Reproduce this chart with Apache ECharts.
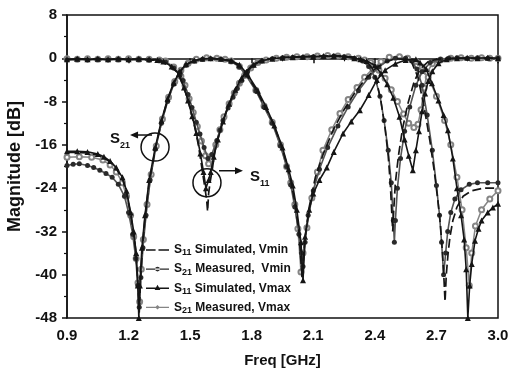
<!DOCTYPE html>
<html>
<head>
<meta charset="utf-8">
<script src="https://cdn.jsdelivr.net/npm/echarts@6/dist/echarts.min.js"></script>
<style>html,body{margin:0;padding:0;background:#fff;}#c{width:511px;height:371px;}</style>
</head>
<body>
<div id="c"></div>
<script>
// ---- data (frequency GHz, magnitude dB) ----
const xTicks = [0.9, 1.2, 1.5, 1.8, 2.1, 2.4, 2.7, 3.0];
const yTicks = [8, 0, -8, -16, -24, -32, -40, -48];
const legendNames = ['S11 Simulated, Vmin', 'S21 Measured,  Vmin', 'S11 Simulated, Vmax', 'S21 Measured, Vmax'];

const s11VminSim = [[0.90,-0.2],[0.95,-0.2],[1.00,-0.1],[1.05,-0.2],[1.10,-0.2],[1.15,-0.1],[1.20,-0.2],[1.25,-0.2],[1.30,-0.3],[1.34,-0.4],[1.37,-0.8],[1.40,-1.4],[1.42,-2.0],[1.44,-2.7],[1.465,-5.0],[1.485,-7.2],[1.505,-10.0],[1.523,-12.8],[1.54,-16.0],[1.557,-20.2],[1.572,-24.0],[1.58,-26.0],[1.585,-28.3],[1.59,-25.0],[1.597,-23.0],[1.61,-20.0],[1.621,-17.1],[1.64,-14.2],[1.66,-11.5],[1.69,-8.4],[1.718,-5.9],[1.74,-4.2],[1.767,-2.8],[1.80,-1.3],[1.84,-0.5],[1.88,-0.1],[1.92,0.1],[1.96,0.2],[2.00,0.2],[2.05,0.3],[2.10,0.4],[2.15,0.4],[2.20,0.5],[2.25,0.4],[2.30,0.2],[2.33,-0.1],[2.36,-0.6],[2.39,-2.0],[2.41,-4.5],[2.43,-8.0],[2.45,-13.0],[2.465,-18.0],[2.475,-23.0],[2.483,-29.0],[2.487,-32.0],[2.492,-28.0],[2.50,-23.0],[2.515,-18.0],[2.535,-13.0],[2.56,-8.5],[2.59,-4.5],[2.62,-2.0],[2.66,-0.6],[2.70,-0.2],[2.75,0.0],[2.80,0.0],[2.85,0.0],[2.90,0.0],[2.95,0.0],[3.00,0.0]];
const s21VminSim = [[0.90,-17.4],[0.95,-17.4],[1.00,-17.5],[1.05,-17.9],[1.08,-18.4],[1.11,-19.2],[1.14,-20.4],[1.17,-22.3],[1.19,-24.8],[1.21,-28.8],[1.225,-32.5],[1.235,-35.5],[1.245,-41.0],[1.252,-47.0],[1.258,-41.0],[1.267,-35.0],[1.28,-29.5],[1.30,-23.0],[1.33,-16.8],[1.36,-11.7],[1.39,-7.7],[1.42,-4.6],[1.45,-2.5],[1.48,-1.2],[1.52,-0.4],[1.56,-0.1],[1.60,0.0],[1.65,-0.2],[1.70,-0.5],[1.74,-1.4],[1.77,-2.8],[1.82,-5.7],[1.86,-8.6],[1.90,-11.6],[1.94,-15.6],[1.97,-19.4],[1.99,-22.5],[2.01,-26.5],[2.03,-32.0],[2.045,-40.5],[2.06,-33.0],[2.08,-27.5],[2.11,-22.0],[2.15,-17.5],[2.20,-13.0],[2.25,-9.5],[2.30,-6.5],[2.35,-4.0],[2.40,-2.0],[2.45,-0.7],[2.50,-0.1],[2.55,-0.2],[2.58,-0.8],[2.61,-3.5],[2.64,-9.0],[2.668,-15.2],[2.69,-21.0],[2.707,-26.3],[2.72,-31.0],[2.73,-36.2],[2.737,-41.0],[2.742,-45.0],[2.748,-40.0],[2.757,-36.0],[2.766,-33.0],[2.78,-30.0],[2.80,-27.5],[2.83,-25.5],[2.87,-24.5],[2.93,-24.0],[3.00,-24.0]];

const s11VminMeas = [[0.90,-0.3],[0.95,-0.2],[1.00,-0.3],[1.05,-0.2],[1.10,-0.3],[1.15,-0.2],[1.20,-0.3],[1.25,-0.2],[1.30,-0.3],[1.35,-0.4],[1.38,-0.7],[1.42,-1.8],[1.45,-3.1],[1.466,-4.1],[1.49,-6.7],[1.509,-9.1],[1.53,-11.8],[1.548,-14.0],[1.568,-16.5],[1.587,-18.5],[1.605,-17.8],[1.63,-15.2],[1.645,-13.3],[1.66,-11.5],[1.685,-9.2],[1.709,-7.2],[1.73,-5.6],[1.752,-4.1],[1.78,-2.5],[1.81,-1.3],[1.85,-0.5],[1.90,-0.1],[1.95,0.1],[2.00,0.2],[2.05,0.2],[2.10,0.3],[2.15,0.3],[2.20,0.4],[2.25,0.3],[2.30,0.0],[2.34,-0.5],[2.37,-1.5],[2.40,-3.5],[2.425,-7.0],[2.445,-11.5],[2.465,-17.0],[2.48,-23.0],[2.49,-30.0],[2.495,-34.0],[2.50,-30.0],[2.51,-24.0],[2.525,-18.5],[2.545,-13.5],[2.57,-9.0],[2.60,-5.0],[2.63,-2.5],[2.67,-0.8],[2.72,-0.2],[2.76,0.0],[2.80,0.1],[2.85,0.0],[2.90,0.1],[2.95,0.0],[3.00,0.0]];
const s21VminMeas = [[0.90,-19.8],[0.93,-19.6],[0.96,-19.5],[1.00,-19.8],[1.03,-20.2],[1.06,-20.7],[1.09,-21.3],[1.12,-22.0],[1.15,-23.3],[1.18,-25.5],[1.20,-28.5],[1.22,-32.5],[1.235,-37.0],[1.245,-42.0],[1.252,-46.0],[1.26,-40.5],[1.27,-35.0],[1.285,-29.0],[1.305,-22.5],[1.33,-16.8],[1.36,-12.0],[1.39,-8.0],[1.42,-4.8],[1.45,-2.6],[1.48,-1.3],[1.52,-0.5],[1.56,-0.2],[1.60,-0.1],[1.65,-0.2],[1.70,-0.6],[1.74,-1.6],[1.77,-3.0],[1.82,-6.0],[1.86,-9.0],[1.90,-12.0],[1.94,-16.2],[1.97,-20.0],[1.99,-23.4],[2.01,-27.5],[2.03,-32.5],[2.042,-36.0],[2.05,-38.5],[2.06,-34.0],[2.075,-29.0],[2.10,-24.5],[2.13,-20.5],[2.17,-16.5],[2.22,-12.5],[2.27,-9.0],[2.32,-6.0],[2.37,-3.5],[2.42,-1.6],[2.46,-0.5],[2.50,0.0],[2.55,0.0],[2.58,-0.5],[2.605,-2.0],[2.63,-5.0],[2.655,-10.5],[2.68,-17.0],[2.70,-23.5],[2.715,-29.0],[2.725,-34.0],[2.735,-40.0],[2.745,-36.0],[2.755,-32.0],[2.77,-28.5],[2.79,-26.0],[2.82,-24.3],[2.86,-23.3],[2.90,-23.0],[2.95,-23.0],[3.00,-23.0]];

const s11VmaxSim = [[0.90,-0.2],[0.95,-0.1],[1.00,-0.2],[1.05,-0.1],[1.10,-0.2],[1.15,-0.1],[1.20,-0.2],[1.25,-0.1],[1.30,-0.2],[1.34,-0.3],[1.37,-0.6],[1.41,-1.5],[1.445,-2.9],[1.47,-5.4],[1.49,-7.8],[1.51,-10.7],[1.53,-13.8],[1.55,-17.6],[1.565,-21.0],[1.577,-24.0],[1.59,-22.5],[1.60,-21.0],[1.615,-18.2],[1.635,-15.0],[1.66,-11.7],[1.69,-8.4],[1.72,-5.8],[1.75,-3.7],[1.775,-2.5],[1.81,-1.2],[1.85,-0.4],[1.90,-0.1],[1.95,0.1],[2.00,0.2],[2.05,0.3],[2.10,0.3],[2.15,0.4],[2.20,0.4],[2.25,0.3],[2.30,0.0],[2.33,-0.2],[2.36,-0.5],[2.40,-1.3],[2.43,-2.8],[2.46,-4.8],[2.49,-7.3],[2.52,-10.8],[2.545,-15.0],[2.565,-18.0],[2.585,-20.7],[2.60,-17.0],[2.615,-13.5],[2.63,-9.8],[2.645,-6.5],[2.66,-4.2],[2.68,-2.4],[2.71,-0.9],[2.75,-0.2],[2.80,0.0],[2.85,0.1],[2.90,0.0],[2.95,0.1],[3.00,0.0]];
const s21VmaxSim = [[0.90,-17.2],[0.95,-17.2],[1.00,-17.3],[1.05,-17.7],[1.08,-18.2],[1.11,-19.0],[1.14,-20.2],[1.17,-22.0],[1.19,-24.5],[1.21,-28.5],[1.225,-32.0],[1.237,-36.0],[1.245,-42.0],[1.25,-48.0],[1.255,-42.0],[1.265,-35.0],[1.28,-29.0],[1.30,-22.5],[1.33,-16.5],[1.36,-11.5],[1.39,-7.5],[1.42,-4.5],[1.45,-2.4],[1.48,-1.1],[1.52,-0.4],[1.56,-0.1],[1.60,0.0],[1.65,-0.1],[1.70,-0.4],[1.74,-1.2],[1.78,-3.0],[1.83,-6.0],[1.87,-9.0],[1.91,-12.4],[1.95,-16.5],[1.98,-20.5],[2.00,-23.5],[2.02,-28.0],[2.04,-34.0],[2.05,-41.0],[2.06,-33.0],[2.08,-28.0],[2.10,-25.0],[2.13,-22.5],[2.166,-20.2],[2.20,-17.3],[2.245,-13.9],[2.285,-11.7],[2.327,-9.6],[2.37,-6.8],[2.41,-4.0],[2.45,-2.2],[2.50,-1.0],[2.55,-0.3],[2.60,-0.2],[2.62,-0.8],[2.65,-2.0],[2.678,-4.6],[2.71,-7.8],[2.735,-10.5],[2.756,-13.3],[2.78,-18.5],[2.80,-24.0],[2.82,-29.0],[2.835,-33.5],[2.845,-39.0],[2.853,-48.0],[2.862,-42.0],[2.872,-38.0],[2.888,-33.7],[2.905,-31.5],[2.92,-30.0],[2.95,-28.5],[2.975,-27.6],[3.00,-26.9]];

const s11VmaxMeas = [[0.90,-0.1],[0.95,-0.2],[1.00,-0.1],[1.05,-0.2],[1.10,-0.1],[1.15,-0.2],[1.20,-0.1],[1.25,-0.2],[1.30,-0.2],[1.35,-0.3],[1.38,-0.5],[1.42,-1.6],[1.455,-3.3],[1.475,-5.0],[1.495,-7.5],[1.515,-10.0],[1.535,-12.6],[1.555,-15.3],[1.575,-18.0],[1.59,-19.5],[1.605,-18.6],[1.625,-16.0],[1.645,-13.2],[1.665,-10.8],[1.69,-8.4],[1.715,-6.4],[1.74,-4.6],[1.765,-3.2],[1.795,-1.8],[1.83,-0.8],[1.87,-0.3],[1.92,0.0],[1.97,0.2],[2.02,0.3],[2.07,0.3],[2.12,0.4],[2.17,0.5],[2.22,0.4],[2.27,0.3],[2.32,0.0],[2.35,-0.3],[2.38,-0.8],[2.42,-2.2],[2.45,-3.7],[2.48,-5.8],[2.51,-8.0],[2.54,-10.3],[2.565,-12.0],[2.59,-12.8],[2.61,-12.2],[2.625,-9.5],[2.64,-5.5],[2.655,-2.6],[2.68,-1.0],[2.72,-0.3],[2.77,0.0],[2.82,0.1],[2.87,0.0],[2.92,0.1],[2.96,0.0],[3.00,0.0]];
const s21VmaxMeas = [[0.90,-18.3],[0.96,-18.2],[1.02,-18.3],[1.075,-18.8],[1.11,-19.7],[1.14,-21.0],[1.17,-23.0],[1.19,-25.5],[1.21,-29.0],[1.225,-33.0],[1.237,-37.0],[1.246,-41.5],[1.254,-45.0],[1.262,-39.0],[1.272,-33.5],[1.29,-27.0],[1.31,-21.5],[1.335,-16.2],[1.365,-11.2],[1.395,-7.2],[1.425,-4.3],[1.455,-2.2],[1.49,-0.9],[1.53,-0.2],[1.58,0.1],[1.63,0.0],[1.67,-0.2],[1.70,-0.5],[1.74,-1.5],[1.77,-2.9],[1.82,-5.9],[1.86,-8.8],[1.90,-11.8],[1.94,-16.0],[1.97,-20.0],[1.99,-23.0],[2.01,-27.0],[2.025,-31.5],[2.04,-39.5],[2.05,-36.0],[2.069,-31.3],[2.093,-25.8],[2.12,-21.0],[2.147,-17.0],[2.19,-13.2],[2.23,-10.2],[2.27,-7.6],[2.313,-5.4],[2.35,-3.5],[2.39,-1.9],[2.43,-0.6],[2.47,0.2],[2.52,0.3],[2.56,0.0],[2.60,-0.6],[2.63,-1.6],[2.66,-3.5],[2.70,-7.0],[2.74,-11.5],[2.77,-16.0],[2.80,-22.0],[2.825,-28.0],[2.845,-35.0],[2.86,-42.0],[2.872,-36.0],[2.89,-31.0],[2.92,-28.0],[2.96,-26.0],[3.00,-24.5]];

// annotation anchors (data coords of the circled points)
const annoS21 = [1.329, -16.4];
const annoS11 = [1.582, -23.0];

const FONT = '"Liberation Sans", Arial, Helvetica, sans-serif';
const chart = echarts.init(document.getElementById('c'), null, {renderer: 'canvas'});

function mk(name, data, style) {
  return Object.assign({
    name: name, type: 'line', data: data, smooth: false,
    showAllSymbol: true, animation: false, clip: true
  }, style);
}
const stDashed = {symbol: 'none', lineStyle: {color: '#151515', width: 1.7, type: [9, 4]}, itemStyle: {color: '#151515'}, z: 4};
const stMeasMin = {symbol: 'circle', symbolSize: 5, lineStyle: {color: '#555', width: 1.6}, itemStyle: {color: '#2a2a2a'}, z: 3};
const stSimMax = {symbol: 'triangle', symbolSize: 6, lineStyle: {color: '#151515', width: 1.6}, itemStyle: {color: '#151515'}, z: 5};
const stMeasMax = {symbol: 'emptyCircle', symbolSize: 5, lineStyle: {color: '#858585', width: 1.5}, itemStyle: {color: '#858585', borderWidth: 1}, z: 2};

// legend icons (24x10 box)
const iconDashed = 'path://M0,0M24,10M0,4.2h10v1.6h-10zM13,4.2h11v1.6h-11z';
const iconDot = 'path://M0,0M24,10M0,4.3h24v1.4h-24zM9.5,5a2.5,2.5 0 1,0 5,0a2.5,2.5 0 1,0 -5,0z';
const iconTri = 'path://M0,0M24,10M0,4.2h24v1.6h-24zM12,1.5L15,7L9,7z';
const iconDia = 'path://M0,0M24,10M0,4.4h24v1.2h-24zM12,2.6L14.4,5L12,7.4L9.6,5z';

const axisFont = {fontFamily: FONT, fontWeight: 'bold', fontSize: 15, color: '#111'};

chart.setOption({
  backgroundColor: '#fff',
  animation: false,
  grid: {left: 67, right: 13, top: 15, bottom: 53, outerBoundsMode: 'none', containLabel: false,
         show: true, borderColor: '#111', borderWidth: 1.5, backgroundColor: 'transparent'},
  legend: {
    data: [
      {name: legendNames[0], icon: iconDashed},
      {name: legendNames[1], icon: iconDot},
      {name: legendNames[2], icon: iconTri},
      {name: legendNames[3], icon: iconDia}
    ],
    orient: 'vertical', left: 141, top: 239,
    itemWidth: 23, itemHeight: 10, itemGap: 5.6,
    itemStyle: {borderWidth: 0},
    formatter: function (n) {
      const m = n.match(/^S(\d\d)(.*)$/);
      return '{b|S}{sub|' + m[1] + '}{b|' + m[2] + '}';
    },
    textStyle: {
      color: '#111',
      rich: {
        b: {fontFamily: FONT, fontWeight: 'bold', fontSize: 12, lineHeight: 15, color: '#111'},
        sub: {fontFamily: FONT, fontWeight: 'bold', fontSize: 9, lineHeight: 8, verticalAlign: 'bottom', color: '#111'}
      }
    }
  },
  xAxis: {
    type: 'value', min: 0.9, max: 3.0, interval: 0.3,
    name: 'Freq [GHz]', nameLocation: 'middle', nameGap: 35,
    nameTextStyle: {fontFamily: FONT, fontWeight: 'bold', fontSize: 15, color: '#111'},
    axisLine: {show: true, lineStyle: {color: '#111', width: 1.5}},
    axisTick: {show: true, inside: false, length: 5, lineStyle: {color: '#111', width: 1.5}},
    minorTick: {show: true, splitNumber: 2, length: 3, lineStyle: {color: '#111', width: 1.2}},
    splitLine: {show: false},
    axisLabel: Object.assign({margin: 10, formatter: v => (Math.round(v * 10) / 10).toFixed(1)}, axisFont)
  },
  yAxis: {
    type: 'value', min: -48, max: 8, interval: 8,
    name: 'Magnitude [dB]', nameLocation: 'middle', nameGap: 41, nameRotate: 90,
    nameTextStyle: {fontFamily: FONT, fontWeight: 'bold', fontSize: 18, color: '#111'},
    axisLine: {show: true, lineStyle: {color: '#111', width: 1.5}},
    axisTick: {show: true, inside: false, length: 5, lineStyle: {color: '#111', width: 1.5}},
    minorTick: {show: true, splitNumber: 2, length: 3, lineStyle: {color: '#111', width: 1.2}},
    splitLine: {show: false},
    axisLabel: Object.assign({margin: 10}, axisFont)
  },
  series: [
    mk(legendNames[3], s11VmaxMeas, stMeasMax),
    mk(legendNames[3], s21VmaxMeas, stMeasMax),
    mk(legendNames[1], s11VminMeas, stMeasMin),
    mk(legendNames[1], s21VminMeas, stMeasMin),
    mk(legendNames[0], s11VminSim, stDashed),
    mk(legendNames[0], s21VminSim, stDashed),
    mk(legendNames[2], s11VmaxSim, stSimMax),
    mk(legendNames[2], s21VmaxSim, stSimMax)
  ]
});

// annotations placed relative to data anchors
const p21 = chart.convertToPixel({gridIndex: 0}, annoS21);
const p11 = chart.convertToPixel({gridIndex: 0}, annoS11);
const stroke = {stroke: '#111', lineWidth: 1.5, fill: null};
function arrow(x1, y, x2) {
  const dir = x2 > x1 ? 1 : -1;
  return [
    {type: 'line', shape: {x1: x1, y1: y, x2: x2 - dir * 5, y2: y}, style: {stroke: '#111', lineWidth: 1.5}, z: 100},
    {type: 'polygon', shape: {points: [[x2, y], [x2 - dir * 8, y - 3.5], [x2 - dir * 8, y + 3.5]]}, style: {fill: '#111'}, z: 100}
  ];
}
const g = [];
g.push({type: 'ellipse', shape: {cx: p21[0], cy: p21[1], rx: 14, ry: 14}, style: stroke, z: 100});
g.push(...arrow(p21[0] - 3, p21[1] - 12, p21[0] - 25));
g.push({type: 'text', x: p21[0] - 45, y: p21[1] - 8, style: {text: 'S', font: 'bold 15px ' + FONT, fill: '#111', verticalAlign: 'middle'}, z: 100});
g.push({type: 'text', x: p21[0] - 35, y: p21[1] - 2, style: {text: '21', font: 'bold 9px ' + FONT, fill: '#111', verticalAlign: 'middle'}, z: 100});
g.push({type: 'ellipse', shape: {cx: p11[0], cy: p11[1], rx: 14, ry: 14}, style: stroke, z: 100});
g.push(...arrow(p11[0] + 12, p11[1] - 12, p11[0] + 36));
g.push({type: 'text', x: p11[0] + 43, y: p11[1] - 6, style: {text: 'S', font: 'bold 15px ' + FONT, fill: '#111', verticalAlign: 'middle'}, z: 100});
g.push({type: 'text', x: p11[0] + 53, y: p11[1] + 1, style: {text: '11', font: 'bold 9px ' + FONT, fill: '#111', verticalAlign: 'middle'}, z: 100});
chart.setOption({graphic: g});
</script>
</body>
</html>
